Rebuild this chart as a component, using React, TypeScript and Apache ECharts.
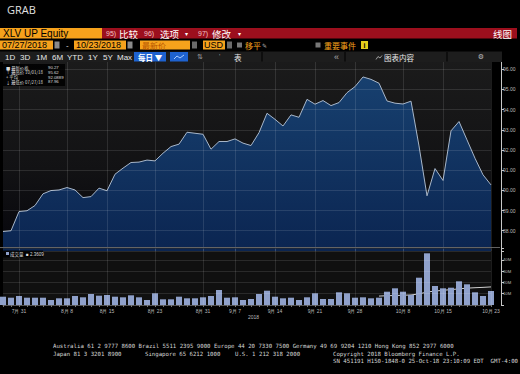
import React, { useEffect, useRef } from 'react';
import * as echarts from 'echarts';

const dates = ['7/27','7/30','7/31','8/1','8/2','8/3','8/6','8/7','8/8','8/9','8/10','8/13','8/14','8/15','8/16','8/17','8/20','8/21','8/22','8/23','8/24','8/27','8/28','8/29','8/30','8/31','9/4','9/5','9/6','9/7','9/10','9/11','9/12','9/13','9/14','9/17','9/18','9/19','9/20','9/21','9/24','9/25','9/26','9/27','9/28','10/1','10/2','10/3','10/4','10/5','10/8','10/9','10/10','10/11','10/12','10/15','10/16','10/17','10/18','10/19','10/22','10/23'];

const prices = [87.96,88.0,88.95,88.99,89.25,89.83,89.99,90.02,90.14,90.02,89.64,89.69,90.11,89.98,90.8,91.1,91.38,91.4,91.5,91.46,91.84,92.17,92.29,92.88,92.83,92.78,92.04,92.42,92.42,92.55,92.34,92.22,92.86,93.82,93.52,93.19,93.74,93.62,94.51,94.27,94.45,94.2,94.35,94.84,95.14,95.62,95.5,95.31,94.43,94.32,94.28,94.42,92.2,89.73,91.08,90.49,92.95,93.41,92.5,91.59,90.77,90.27];

// volume in millions
const volumes = [7.35,6.46,7.96,6.46,6.46,6.46,4.42,5.93,5.93,7.96,6.81,9.73,8.23,8.85,7.35,6.81,8.58,6.81,4.42,10.35,5.04,5.04,7.35,5.93,5.93,6.81,7.96,13.27,6.46,6.81,4.42,5.31,9.73,12.65,7.35,5.93,6.46,4.42,6.81,10.35,5.31,5.31,11.24,10.35,6.46,6.81,5.93,6.46,11.77,14.78,11.77,8.85,24.16,45.75,16.81,14.78,15.31,20.97,18.32,11.24,7.96,12.39];

const volumeMA = [null,null,null,null,null,null,null,null,null,null,null,null,null,null,null,null,null,null,null,null,null,null,null,null,null,null,null,null,null,null,null,null,null,null,null,null,null,null,null,null,null,null,null,null,null,null,null,7.9,8.2,8.4,8.6,8.9,9.8,11.5,12.3,13.0,13.6,14.3,14.9,15.3,15.6,16.0];

const gridIdx = [2, 8, 13, 19, 25, 29, 34, 39, 44, 50, 55, 61];
const priceTicks = [88, 89, 90, 91, 92, 93, 94, 95, 96];
const volumeTicks = [10, 20, 30, 40];

const legendRows = [
  ['■ 最新价格', '90.27'],
  ['↑ 最高价 10/01/18', '95.62'],
  ['+ 平均', '92.0889'],
  ['↓ 最低价 07/27/18', '87.96'],
];

const SANS = 'Liberation Sans, Arial, sans-serif';
const CJK = 'Noto Sans CJK SC, Liberation Sans, sans-serif';
const MONO = 'DejaVu Sans Mono, monospace';

function txt(x: number, y: number, text: string, o: any = {}) {
  const align = o.align ?? 'left';
  return {
    type: 'text', x, y, z: o.z ?? 120, silent: true,
    style: {
      text, fill: o.fill ?? '#ffffff', fontSize: o.size ?? 8, fontFamily: o.font ?? SANS,
      fontWeight: o.weight ?? 'normal', align, verticalAlign: 'middle', textAlign: align, textVerticalAlign: 'middle',
    },
  };
}
function rect(x: number, y: number, w: number, h: number, fill: any, z = 110) {
  return { type: 'rect', z, silent: true, shape: { x, y, width: w, height: h }, style: { fill } };
}
function line(x1: number, y1: number, x2: number, y2: number, stroke: string, z = 110, w = 1) {
  return { type: 'line', z, silent: true, shape: { x1, y1, x2, y2 }, style: { stroke, lineWidth: w } };
}

const ORANGE = '#f6a21c';
const RED = '#9c0f1d';
const GRID = 'rgba(255,255,255,0.11)';

function buildOption() {
  const last = prices[prices.length - 1];
  const lastVol = volumes[volumes.length - 1];
  const lastMA = volumeMA[volumeMA.length - 1] as number;
  const toLabel = (v: string) => { const [m, d] = v.split('/'); return m + '月 ' + d; };

  const graphic: any[] = [
    rect(0, 0, 520, 62, '#000', 100),
    txt(7, 9, 'GRAB', { size: 11, fill: '#e2e2e2', font: 'Open Sans, Noto Sans, sans-serif' }),
    // row 1
    rect(0, 28, 102, 10.5, ORANGE),
    txt(3, 33.5, 'XLV UP Equity', { size: 10, fill: '#000' }),
    rect(102, 28, 415, 10.5, RED),
    txt(106, 33.5, '95)', { size: 7, fill: '#f2c4c4' }),
    txt(119, 33.5, '比较', { size: 9.5, font: CJK }),
    txt(144, 33.5, '96)', { size: 7, fill: '#f2c4c4' }),
    txt(160, 33.5, '选项', { size: 9.5, font: CJK }),
    txt(185, 34, '▾', { size: 6 }),
    txt(198, 33.5, '97)', { size: 7, fill: '#f2c4c4' }),
    txt(212, 33.5, '修改', { size: 9.5, font: CJK }),
    txt(238, 34, '▾', { size: 6 }),
    txt(512, 33.5, '线图', { size: 9.5, font: CJK, align: 'right' }),
    // row 2
    rect(0, 40.5, 53, 9, ORANGE),
    txt(2, 45, '07/27/2018', { size: 9, fill: '#000' }),
    rect(54.5, 41.5, 5, 7, '#8a8a8a'),
    txt(66, 45, '-', { size: 8, fill: '#ddd' }),
    rect(74, 40.5, 52, 9, ORANGE),
    txt(76, 45, '10/23/2018', { size: 9, fill: '#000' }),
    rect(127.5, 41.5, 5, 7, '#8a8a8a'),
    rect(140, 40.5, 50, 9, ORANGE),
    txt(142, 45, '最新价', { size: 8, fill: '#b65400', font: CJK }),
    rect(192, 41.5, 5, 7, '#6a6a6a'),
    rect(203, 40.5, 22, 9, ORANGE),
    txt(204, 45, 'USD', { size: 9, fill: '#000' }),
    rect(227, 41.5, 5, 7, '#6a6a6a'),
    rect(237, 42.5, 5, 5, '#777'),
    txt(245, 45, '移平', { size: 8, fill: ORANGE, font: CJK }),
    txt(262, 45, '✎', { size: 6, fill: '#aaa', font: 'DejaVu Sans' }),
    rect(315.5, 42.5, 5, 5, '#777'),
    txt(324, 45, '重要事件', { size: 8, fill: ORANGE, font: CJK }),
    rect(361, 41, 7, 8, '#e4cd1b'),
    txt(364.5, 45, 'i', { size: 7, fill: '#000', align: 'center', weight: 'bold' }),
    // row 3
    rect(0, 51.5, 502, 10.5, '#1d1d1d'),
    txt(5, 57, '1D', { size: 8, fill: '#e8e8e8' }),
    txt(20, 57, '3D', { size: 8, fill: '#e8e8e8' }),
    txt(36, 57, '1M', { size: 8, fill: '#e8e8e8' }),
    txt(52, 57, '6M', { size: 8, fill: '#e8e8e8' }),
    txt(67, 57, 'YTD', { size: 8, fill: '#e8e8e8' }),
    txt(88, 57, '1Y', { size: 8, fill: '#e8e8e8' }),
    txt(103, 57, '5Y', { size: 8, fill: '#e8e8e8' }),
    txt(117, 57, 'Max', { size: 8, fill: '#e8e8e8' }),
    rect(134, 52, 32, 9.5, '#1e62cf'),
    txt(138, 57, '每日 ▼', { size: 7.5, font: CJK, weight: 'bold' }),
    rect(170, 52, 18, 9.5, '#1e62cf'),
    { type: 'polyline', z: 121, silent: true, shape: { points: [[174, 59], [177, 56], [180, 58], [184, 55]] }, style: { stroke: '#a9ccff', lineWidth: 1, fill: 'none' } },
    txt(197, 57, '⇅', { size: 7, fill: '#999', font: 'DejaVu Sans' }),
    txt(219, 56, '\'', { size: 7, fill: '#999' }),
    txt(234, 57, '表', { size: 7.5, font: CJK, fill: '#e8e8e8' }),
    line(262, 52, 262, 61.5, '#000', 115),
    line(345, 52, 345, 61.5, '#000', 115),
    line(447, 52, 447, 61.5, '#000', 115),
    txt(334, 57, '«', { size: 9, fill: '#aaa' }),
    { type: 'polyline', z: 121, silent: true, shape: { points: [[376, 59.5], [378, 56.5], [380, 58], [382, 55.5]] }, style: { stroke: '#bbb', lineWidth: 0.8, fill: 'none' } },
    txt(384, 57, '图表内容', { size: 7.5, font: CJK, fill: '#e8e8e8' }),
    txt(481, 57, '⚙', { size: 7, fill: '#bbb', font: 'DejaVu Sans', align: 'center' }),
    // price legend box
    rect(3, 64, 62, 22, 'rgba(0,0,0,0.85)'),
    // separator between panels
    rect(0, 247, 491, 1.5, '#111', 108),
    line(0, 247.5, 500, 247.5, '#7a7a7a', 109, 0.8),
    // volume legend
    rect(3, 250.5, 40, 7, 'rgba(0,0,0,0.85)'),
    rect(6, 252, 3, 3, '#8fa1cb', 121),
    txt(10, 254, '成交量', { size: 4.5, font: CJK, fill: '#ddd' }),
    txt(26, 254, '■ 2.3609', { size: 4.5, fill: '#ddd' }),
    txt(248, 317, '2018', { size: 5, fill: '#bbb' }),
    // footer
    txt(53, 346, 'Australia 61 2 9777 8600 Brazil 5511 2395 9000 Europe 44 20 7330 7500 Germany 49 69 9204 1210 Hong Kong 852 2977 6000', { size: 5.7, font: MONO, fill: '#d6d6d6' }),
    txt(53, 353.7, 'Japan 81 3 3201 8900', { size: 5.7, font: MONO, fill: '#d6d6d6' }),
    txt(145, 353.7, 'Singapore 65 6212 1000', { size: 5.7, font: MONO, fill: '#d6d6d6' }),
    txt(235, 353.7, 'U.S. 1 212 318 2000', { size: 5.7, font: MONO, fill: '#d6d6d6' }),
    txt(333, 353.7, 'Copyright 2018 Bloomberg Finance L.P.', { size: 5.7, font: MONO, fill: '#d6d6d6' }),
    txt(518, 360.8, 'SN 451191 H150-1848-0 25-Oct-18 23:10:09 EDT  GMT-4:00', { size: 5.7, font: MONO, fill: '#d6d6d6', align: 'right' }),
  ];
  legendRows.forEach((r, i) => {
    const y = 67.7 + i * 4.7;
    graphic.push(txt(6, y, r[0], { size: 4.3, font: CJK, fill: '#ddd' }));
    graphic.push(txt(48, y, r[1], { size: 4.3, fill: '#ddd' }));
  });

  const splitInterval = (i: number) => gridIdx.includes(i);

  return {
    animation: false,
    backgroundColor: '#000',
    graphic,
    grid: [
      {
        left: 3, right: 29, top: 49.1, height: 201.8, show: true, borderWidth: 0,
        backgroundColor: { type: 'linear', x: 0, y: 0, x2: 0, y2: 1, colorStops: [{ offset: 0, color: '#1c1c1c' }, { offset: 0.6, color: '#121214' }, { offset: 1, color: '#06060c' }] },
      },
      { left: 3, right: 29, top: 248.5, height: 56.5, show: true, borderWidth: 0, backgroundColor: '#101010' },
    ],
    xAxis: [
      {
        type: 'category', gridIndex: 0, data: dates, boundaryGap: false, z: 5,
        axisLine: { show: false }, axisTick: { show: false }, axisLabel: { show: false },
        splitLine: { show: true, interval: splitInterval, lineStyle: { color: GRID, width: 1 } },
      },
      {
        type: 'category', gridIndex: 1, data: dates, boundaryGap: false, z: 5,
        axisLine: { show: true, lineStyle: { color: '#555' } },
        axisTick: { show: true, interval: 0, length: 2, lineStyle: { color: '#777' } },
        axisLabel: { interval: splitInterval, formatter: (v: string) => toLabel(v), color: '#bbb', fontSize: 5, fontFamily: SANS, margin: 3 },
        splitLine: { show: true, interval: splitInterval, lineStyle: { color: GRID, width: 1 } },
      },
    ],
    yAxis: [
      {
        type: 'value', gridIndex: 0, position: 'right', offset: 10, min: 87, max: 97, interval: 1, z: 5,
        axisLine: { show: true, lineStyle: { color: '#c8c8c8' } },
        axisTick: { show: true, length: 3, lineStyle: { color: '#c8c8c8' } },
        axisLabel: { color: '#bbb', fontSize: 5, fontFamily: SANS, margin: 2, formatter: (v: number) => priceTicks.includes(v) ? v.toFixed(2) : '' },
        splitLine: { show: true, lineStyle: { color: GRID, width: 1 } },
      },
      {
        type: 'value', gridIndex: 1, position: 'right', offset: 10, min: 0, max: 50, interval: 10, z: 5,
        axisLine: { show: true, lineStyle: { color: '#c8c8c8' } },
        axisTick: { show: true, length: 3, lineStyle: { color: '#c8c8c8' } },
        axisLabel: { color: '#bbb', fontSize: 4.2, lineHeight: 4.2, fontFamily: SANS, margin: 2, formatter: (v: number) => volumeTicks.includes(v) ? v + 'M' : '' },
        splitLine: { show: true, lineStyle: { color: GRID, width: 1 } },
      },
    ],
    series: [
      {
        type: 'line', xAxisIndex: 0, yAxisIndex: 0, data: prices, symbol: 'none', z: 2,
        lineStyle: { color: '#a8b7ca', width: 1 },
        areaStyle: { opacity: 1, color: { type: 'linear', x: 0, y: 0, x2: 0, y2: 1, colorStops: [{ offset: 0, color: '#17406f' }, { offset: 1, color: '#0b2551' }] } },
        markLine: {
          silent: true, symbol: 'none', lineStyle: { opacity: 0 },
          data: [{ yAxis: last }],
          label: { position: 'end', distance: 11, formatter: last.toFixed(2), backgroundColor: '#f0f0f0', color: '#000', fontSize: 5, fontFamily: SANS, padding: [1, 1, 0, 1] },
        },
      },
      {
        type: 'line', xAxisIndex: 1, yAxisIndex: 1, data: volumeMA, symbol: 'none', z: 2,
        lineStyle: { color: '#d0d0d0', width: 1 },
        markLine: {
          silent: true, symbol: 'none', lineStyle: { opacity: 0 },
          data: [{ yAxis: lastMA }],
          label: { position: 'end', distance: 11, offset: [0, 0.3], formatter: lastMA.toFixed(2) + 'M', backgroundColor: '#f0f0f0', color: '#000', fontSize: 3, lineHeight: 3, fontFamily: SANS, padding: 0 },
        },
      },
      {
        type: 'bar', xAxisIndex: 1, yAxisIndex: 1, data: volumes, barWidth: 6, z: 3,
        itemStyle: { color: '#8fa1cb' },
        markLine: {
          silent: true, symbol: 'none', lineStyle: { opacity: 0 },
          data: [{ yAxis: lastVol }],
          label: { position: 'end', distance: 11, offset: [0, -1.1], formatter: lastVol.toFixed(2) + 'M', backgroundColor: '#8fa1cb', color: '#000', fontSize: 3, lineHeight: 3, fontFamily: SANS, padding: 0 },
        },
      },
    ],
  };
}

export default function App() {
  const ref = useRef<HTMLDivElement>(null);
  useEffect(() => {
    if (!ref.current) return;
    const chart = echarts.init(ref.current, undefined, { renderer: 'svg' });
    chart.setOption(buildOption() as any);
    return () => chart.dispose();
  }, []);
  return <div ref={ref} style={{ position: 'absolute', left: 0, top: 0, width: 520, height: 374, background: '#000' }} />;
}
